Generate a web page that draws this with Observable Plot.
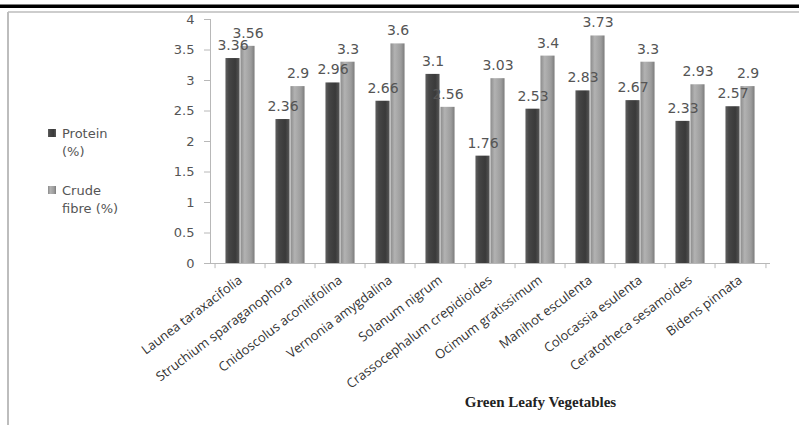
<!DOCTYPE html>
<html>
<head>
<meta charset="utf-8">
<script src="https://cdn.jsdelivr.net/npm/d3@7"></script>
<script src="https://cdn.jsdelivr.net/npm/@observablehq/plot@0.6"></script>
<style>
  html, body { margin: 0; padding: 0; background: #fff; }
  #chart svg { display: block; }
</style>
</head>
<body>
<div id="chart"></div>
<script>
// Green leafy vegetables: protein and crude fibre content
const categories = [
  "Launea taraxacifolia",
  "Struchium sparaganophora",
  "Cnidoscolus aconitifolina",
  "Vernonia amygdalina",
  "Solanum nigrum",
  "Crassocephalum crepidioides",
  "Ocimum gratissimum",
  "Manihot esculenta",
  "Colocassia esulenta",
  "Ceratotheca sesamoides",
  "Bidens pinnata"
];
const protein = [3.36, 2.36, 2.96, 2.66, 3.1, 1.76, 2.53, 2.83, 2.67, 2.33, 2.57];
const fibre = [3.56, 2.9, 3.3, 3.6, 2.56, 3.03, 3.4, 3.73, 3.3, 2.93, 2.9];
const legendLines = [["Protein", "(%)"], ["Crude", "fibre (%)"]];
const yTicks = [0, 0.5, 1, 1.5, 2, 2.5, 3, 3.5, 4];
const xTitle = "Green Leafy Vegetables";

const proteinRows = categories.map((c, i) => ({category: c, value: protein[i]}));
const fibreRows = categories.map((c, i) => ({category: c, value: fibre[i]}));

const W = 799, H = 425;
const ml = 210, mr = 29, mt = 19, mb = 162;
const step = (W - ml - mr) / categories.length;
const barW = 15;

const labelFont = "DejaVu Sans";
const catFont = "Open Sans";

const chart = Plot.plot({
  width: W,
  height: H,
  marginLeft: ml,
  marginRight: mr,
  marginTop: mt,
  marginBottom: mb,
  style: {fontFamily: labelFont, fontSize: "13px", color: "#555", background: "transparent"},
  x: {domain: categories, padding: 0, axis: null, label: null},
  y: {domain: [0, 4], axis: null, label: null},
  marks: [
    // y axis
    Plot.frame({anchor: "left", stroke: "#b8b8b8"}),
    Plot.axisY({
      ticks: yTicks, tickSize: 6, tickPadding: 10, stroke: "#b8b8b8", label: null,
      tickFormat: d => String(d), fill: "#555", fontSize: 13, fontFamily: labelFont
    }),
    // x axis line and boundary ticks
    Plot.ruleY([0], {stroke: "#b8b8b8"}),
    Plot.ruleX(categories, {x: d => d, dx: -step / 2, y1: 0, y2: -0.085, stroke: "#b8b8b8"}),
    Plot.ruleX(categories.slice(-1), {x: d => d, dx: step / 2, y1: 0, y2: -0.085, stroke: "#b8b8b8"}),
    // category labels
    Plot.axisX({
      tickSize: 0, tickPadding: 15, tickRotate: -37, label: null,
      fontFamily: catFont, fontSize: 13, fill: "#333"
    }),
    // bars
    Plot.barY(proteinRows, {
      x: "category", y: "value", fill: "url(#gradProtein)",
      insetLeft: step / 2 - barW, insetRight: step / 2
    }),
    Plot.barY(fibreRows, {
      x: "category", y: "value", fill: "url(#gradFibre)",
      insetLeft: step / 2, insetRight: step / 2 - barW
    }),
    // value labels
    Plot.text(proteinRows, {
      x: "category", y: "value", text: d => String(d.value),
      dx: -barW / 2, dy: -13, lineAnchor: "middle", fill: "#555",
      fontFamily: labelFont, fontSize: 14
    }),
    Plot.text(fibreRows, {
      x: "category", y: "value", text: d => String(d.value),
      dx: barW / 2, dy: -13, lineAnchor: "middle", fill: "#555",
      fontFamily: labelFont, fontSize: 14
    }),
    // x axis title
    Plot.text([xTitle], {
      frameAnchor: "bottom", dx: 50, dy: 143, text: d => d,
      fontFamily: "Liberation Serif", fontWeight: "bold", fontSize: 15, fill: "#222"
    })
  ]
});

const svg = d3.select(chart);

// cylinder-like shading for the bars
const defs = svg.insert("defs", ":first-child");
function gradient(id, stops) {
  const g = defs.append("linearGradient").attr("id", id)
    .attr("x1", "0").attr("x2", "1").attr("y1", "0").attr("y2", "0");
  stops.forEach(([o, c]) => g.append("stop").attr("offset", o).attr("stop-color", c));
}
gradient("gradProtein", [[0, "#5e5e5e"], [0.25, "#464646"], [0.7, "#3a3a3a"], [1, "#585858"]]);
gradient("gradFibre", [[0, "#8c8c8c"], [0.3, "#b2b2b2"], [0.75, "#9c9c9c"], [1, "#7c7c7c"]]);

// page frame and rule
const deco = svg.insert("g", "defs + *");
deco.append("rect").attr("x", 0).attr("y", 4.5).attr("width", W).attr("height", 3.5).attr("fill", "#000");
deco.append("line").attr("x1", 8).attr("x2", W).attr("y1", 12).attr("y2", 12)
  .attr("stroke", "#bdbdbd").attr("stroke-width", 1.5);
deco.append("line").attr("x1", 8).attr("x2", 8).attr("y1", 12).attr("y2", H)
  .attr("stroke", "#bdbdbd").attr("stroke-width", 2);

// legend
const legend = svg.append("g")
  .attr("font-family", labelFont).attr("font-size", 13).attr("fill", "#555")
  .attr("text-anchor", "start");
const legendItems = [
  {lines: legendLines[0], fill: "url(#gradProtein)", y: 133},
  {lines: legendLines[1], fill: "url(#gradFibre)", y: 190}
];
legendItems.forEach(item => {
  legend.append("rect").attr("x", 48).attr("y", item.y - 4).attr("width", 8).attr("height", 8)
    .attr("fill", item.fill);
  item.lines.forEach((t, k) => {
    legend.append("text").attr("x", 62).attr("y", item.y + k * 18)
      .attr("dy", "0.35em").text(t);
  });
});

document.getElementById("chart").appendChild(chart);
</script>
</body>
</html>
